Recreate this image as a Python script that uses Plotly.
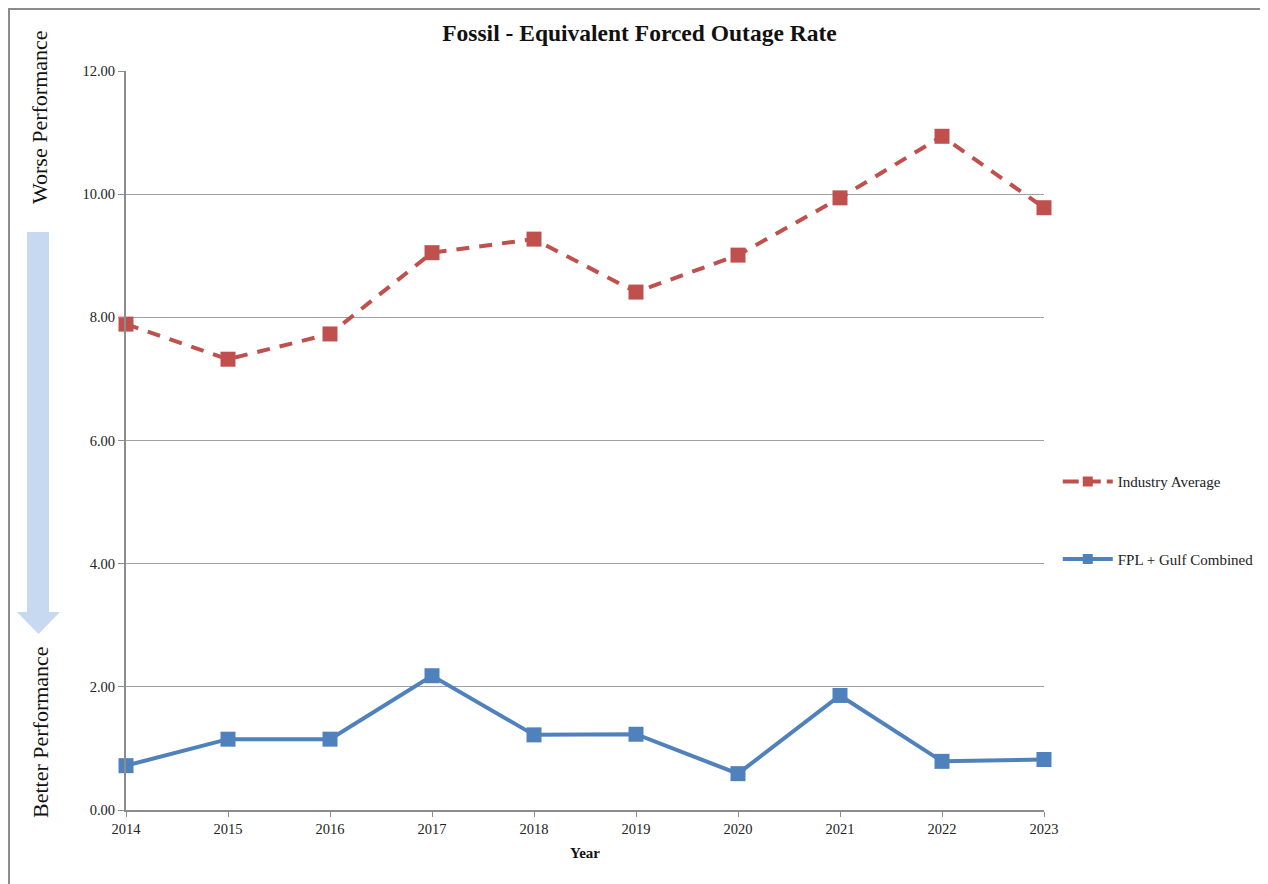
import plotly.graph_objects as go

years = [2014, 2015, 2016, 2017, 2018, 2019, 2020, 2021, 2022, 2023]
industry_avg = [7.89, 7.32, 7.73, 9.05, 9.27, 8.41, 9.01, 9.94, 10.94, 9.78]
fpl_gulf = [0.72, 1.15, 1.15, 2.18, 1.22, 1.23, 0.59, 1.86, 0.79, 0.82]
y_ticks = [0, 2, 4, 6, 8, 10, 12]
y_tick_labels = ["0.00", "2.00", "4.00", "6.00", "8.00", "10.00", "12.00"]

RED = "#C0504D"
BLUE = "#4F81BD"
FONT = "Liberation Serif"
DASH = "13px,10px"

fig = go.Figure()
fig.add_trace(go.Scatter(
    x=years, y=industry_avg, name="Industry Average", mode="lines+markers",
    line=dict(color=RED, width=4, dash=DASH),
    marker=dict(symbol="square", size=15, color=RED),
    showlegend=False, cliponaxis=False,
))
fig.add_trace(go.Scatter(
    x=years, y=fpl_gulf, name="FPL + Gulf Combined", mode="lines+markers",
    line=dict(color=BLUE, width=4),
    marker=dict(symbol="square", size=15, color=BLUE),
    showlegend=False, cliponaxis=False,
))
# legend entries (smaller markers, like the reference)
fig.add_trace(go.Scatter(
    x=[None], y=[None], name="Industry Average", mode="lines+markers",
    line=dict(color=RED, width=4, dash="16px,6px"),
    marker=dict(symbol="square", size=10, color=RED),
    legendgroup="a",
))
fig.add_trace(go.Scatter(
    x=[None], y=[None], name="FPL + Gulf Combined", mode="lines+markers",
    line=dict(color=BLUE, width=4),
    marker=dict(symbol="square", size=10, color=BLUE),
    legendgroup="b",
))

# body has an 8px margin in the page: plot area at page x 126..1044, y 71..810
fig.update_layout(
    width=1268, height=884,
    margin=dict(l=118, r=232, t=63, b=82, autoexpand=False),
    paper_bgcolor="white", plot_bgcolor="white",
    font=dict(family=FONT, size=14.5, color="#222"),
    title=dict(text="<b>Fossil - Equivalent Forced Outage Rate</b>",
               x=0.498, xanchor="center", y=1 - 25 / 884, yanchor="middle",
               font=dict(family=FONT, size=23.5, color="#111")),
    legend=dict(x=1.015, y=0.392, xanchor="left", yanchor="middle",
                font=dict(family=FONT, size=15, color="#222"),
                traceorder="grouped", tracegroupgap=55, itemwidth=50,
                bgcolor="rgba(0,0,0,0)"),
    showlegend=True,
)
fig.update_xaxes(
    range=[2014, 2023], tickmode="array", tickvals=years,
    ticktext=[str(y) for y in years],
    showgrid=False, showline=True, linecolor="#8C8C8C", linewidth=2,
    ticks="outside", ticklen=5, tickcolor="#8C8C8C", tickwidth=1,
    title=dict(text="<b>Year</b>", font=dict(family=FONT, size=15, color="#111"), standoff=11),
    zeroline=False,
)
fig.update_yaxes(
    range=[0, 12], tickmode="array", tickvals=y_ticks, ticktext=y_tick_labels,
    showgrid=True, gridcolor="#A0A0A0", gridwidth=1,
    showline=True, linecolor="#8C8C8C", linewidth=2,
    ticks="outside", ticklen=6, tickcolor="#8C8C8C", tickwidth=1,
    zeroline=False,
)


def px_x(px):
    return (px - 126) / 918


def px_y(py):
    return (810 - py) / 739


# outer chart frame
fig.add_shape(type="rect", xref="paper", yref="paper",
              x0=px_x(9), x1=1.4, y0=-0.3, y1=px_y(9),
              line=dict(color="#8C8C8C", width=2), fillcolor="rgba(0,0,0,0)", layer="below")

# performance arrow
arrow_path = "M {x0},{y0} L {x1},{y0} L {x1},{y1} L {x2},{y1} L {xt},{yt} L {x3},{y1} L {x0},{y1} Z".format(
    x0=px_x(27), x1=px_x(49), y0=px_y(232), y1=px_y(612),
    x2=px_x(60), xt=px_x(38.5), yt=px_y(634), x3=px_x(17))
fig.add_shape(type="path", xref="paper", yref="paper", path=arrow_path,
              fillcolor="#C6D9F1", line=dict(width=0), layer="below")

fig.add_annotation(text="Worse Performance", xref="paper", yref="paper",
                   x=px_x(40), y=px_y(117), textangle=-90, showarrow=False,
                   font=dict(family=FONT, size=22, color="#111"),
                   xanchor="center", yanchor="middle")
fig.add_annotation(text="Better Performance", xref="paper", yref="paper",
                   x=px_x(40), y=px_y(732), textangle=-90, showarrow=False,
                   font=dict(family=FONT, size=22, color="#111"),
                   xanchor="center", yanchor="middle")

fig.write_html("out.html")
